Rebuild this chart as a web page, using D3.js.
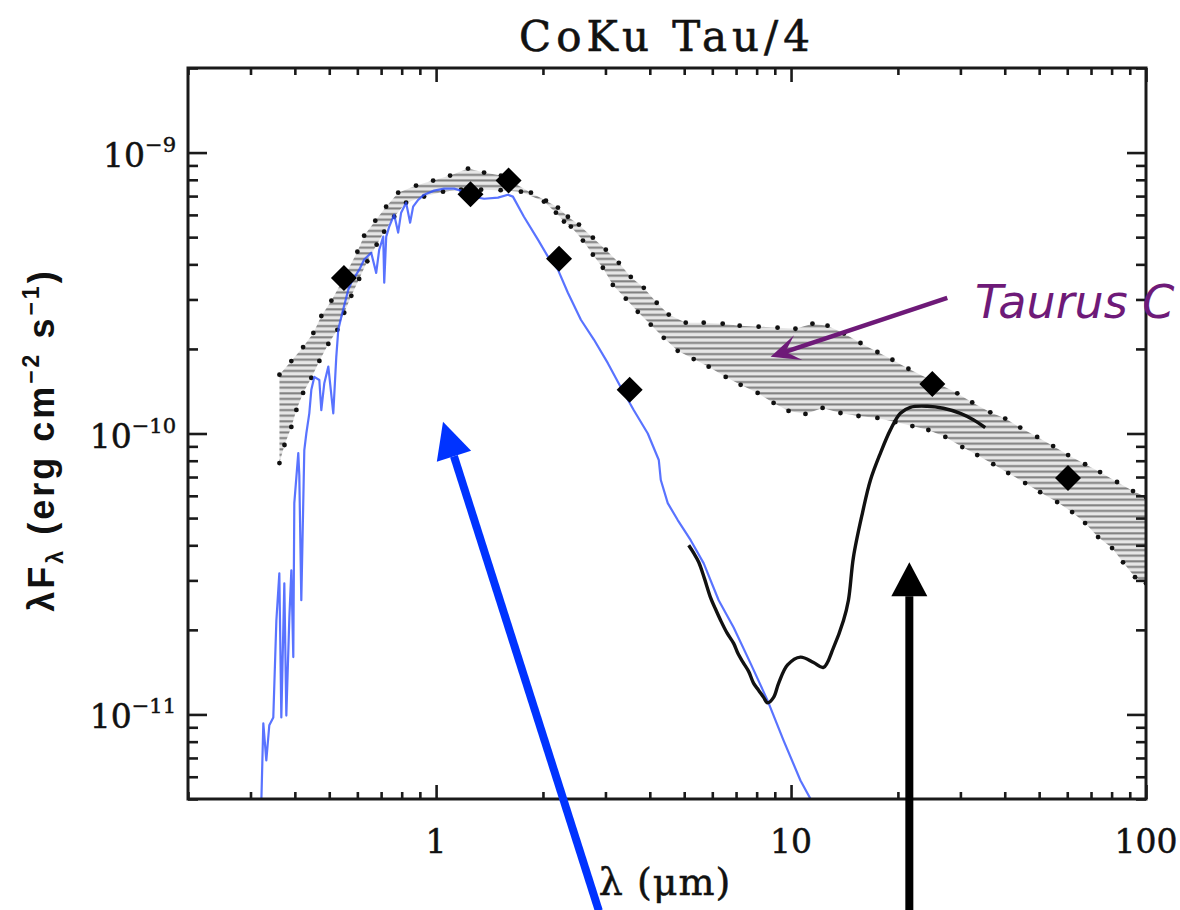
<!DOCTYPE html>
<html>
<head>
<meta charset="utf-8">
<script src="https://cdn.jsdelivr.net/npm/d3@7"></script>
<style>
  body { margin: 0; background: #fff; }
  svg { display: block; }
</style>
</head>
<body>
<svg id="chart" width="1180" height="910"></svg>
<script>
// ---- Data: CoKu Tau/4 spectral energy distribution (lambda in micron, lambda*F_lambda in erg cm^-2 s^-1) ----

// Axis ranges and tick labels
const xDomain = [0.2, 100];
const yDomain = [5e-12, 2e-9];
const xMajorTicks = [1, 10, 100];
const xTickLabels = ["1", "10", "100"];
const yMajorTicks = [1e-9, 1e-10, 1e-11];
const yTickExponents = ["\u22129", "\u221210", "\u221211"];

// Taurus median SED: upper and lower quartile envelopes
const upperLam = [0.362,0.391,0.422,0.451,0.475,0.507,0.551,0.600,0.627,0.674,
  0.723,0.782,0.878,0.981,1.095,1.230,1.365,1.523,1.850,2.039,
  2.204,2.351,2.526,2.765,3.007,3.272,3.536,3.847,4.184,4.523,
  5.050,5.675,6.418,7.165,8.104,9.162,10.29,11.49,12.67,14.1,
  15.69,17.51,19.30,21.41,25.00,29.40,32.39,36.41,40.12,44.22,
  49.36,54.74,60.33,67.36,74.23,82.87,91.91,100];
const upperFlux = [1.62e-10,1.81e-10,2.03e-10,2.28e-10,2.62e-10,2.97e-10,3.6e-10,4.44e-10,5.06e-10,5.72e-10,
  6.42e-10,7.20e-10,7.63e-10,7.95e-10,8.28e-10,8.77e-10,8.49e-10,8.28e-10,7.20e-10,6.74e-10,
  6.37e-10,5.91e-10,5.54e-10,4.98e-10,4.51e-10,4.05e-10,3.61e-10,3.30e-10,2.92e-10,2.65e-10,
  2.48e-10,2.48e-10,2.46e-10,2.42e-10,2.40e-10,2.38e-10,2.36e-10,2.46e-10,2.42e-10,2.27e-10,
  2.10e-10,1.95e-10,1.83e-10,1.70e-10,1.54e-10,1.39e-10,1.29e-10,1.19e-10,1.13e-10,1.05e-10,
  9.72e-11,9.02e-11,8.38e-11,7.78e-11,7.29e-11,6.72e-11,6.24e-11,5.94e-11];

const lowerLam = [0.362,0.374,0.391,0.404,0.422,0.445,0.469,0.497,0.527,0.551,
  0.577,0.607,0.64,0.68,0.714,0.762,0.823,0.925,1.046,1.176,1.339,
  1.52,1.734,2.013,2.176,2.292,2.397,2.592,2.765,2.950,3.147,
  3.423,3.700,4.025,4.379,4.794,5.318,5.861,6.545,7.211,8.052,
  8.929,9.840,10.98,12.27,13.78,15.49,17.51,19.68,21.97,24.37,
  27.21,30.37,33.46,37.13,40.91,45.66,50.33,56.19,61.92,67.36,
  73.28,80.24,86.15,93.14,100];
const lowerFlux = [7.85e-11,9.10e-11,1.055e-10,1.213e-10,1.394e-10,1.577e-10,1.813e-10,2.084e-10,2.339e-10,2.690e-10,
  3.09e-10,3.55e-10,4.1e-10,4.7e-10,5.23e-10,5.91e-10,6.63e-10,6.97e-10,7.26e-10,7.38e-10,7.38e-10,
  7.35e-10,7.26e-10,6.69e-10,6.11e-10,5.68e-10,5.45e-10,4.86e-10,4.33e-10,3.89e-10,3.38e-10,
  3.02e-10,2.71e-10,2.44e-10,2.19e-10,1.97e-10,1.84e-10,1.73e-10,1.59e-10,1.49e-10,1.394e-10,
  1.285e-10,1.203e-10,1.174e-10,1.233e-10,1.183e-10,1.154e-10,1.136e-10,1.099e-10,1.063e-10,1.029e-10,
  9.72e-11,8.95e-11,8.38e-11,7.78e-11,7.23e-11,6.66e-11,6.18e-11,5.70e-11,5.25e-11,4.80e-11,
  4.28e-11,3.91e-11,3.48e-11,3.08e-11,2.93e-11];

// Stellar photosphere model
const modelLam = [0.322,0.326,0.3324,0.3389,0.3478,0.3548,0.3617,0.3664,0.3736,0.3785,
  0.3860,0.391,0.396,0.3986,0.4090,0.4117,0.4171,0.4253,0.4309,0.4393,
  0.4451,0.4538,0.4688,0.4749,0.4842,0.4970,0.5133,0.5233,0.5302,0.5406,
  0.5656,0.5766,0.6074,0.6273,0.6564,0.6780,0.6914,0.7097,0.7143,0.7236,
  0.7378,0.7619,0.7818,0.7970,0.8233,0.8450,0.8616,0.8901,0.9252,0.9871,
  1.053,1.124,1.199,1.271,1.365,1.494,1.594,1.646,1.768,1.936,
  2.066,2.204,2.351,2.558,2.783,3.047,3.314,3.606,3.948,4.240,
  4.296,4.494,4.794,5.215,5.675,6.253,6.891,7.69,8.59,9.53,
  10.63,11.35];
const modelFlux = [5.0e-12,9.29e-12,6.86e-12,9.15e-12,9.75e-12,2.16e-11,3.18e-11,9.75e-12,2.93e-11,9.91e-12,
  2.22e-11,3.26e-11,1.60e-11,5.65e-11,8.52e-11,7.11e-11,2.55e-11,8.73e-11,1.00e-10,1.18e-10,
  1.43e-10,1.59e-10,1.55e-10,1.21e-10,1.51e-10,1.73e-10,1.18e-10,1.87e-10,2.34e-10,2.60e-10,
  3.25e-10,3.44e-10,3.83e-10,4.16e-10,4.40e-10,3.73e-10,4.51e-10,5.02e-10,3.44e-10,5.02e-10,
  5.45e-10,6.01e-10,5.19e-10,6.11e-10,6.63e-10,5.63e-10,6.42e-10,6.79e-10,7.08e-10,7.32e-10,
  7.44e-10,7.44e-10,7.26e-10,6.97e-10,6.85e-10,6.91e-10,7.08e-10,6.97e-10,5.91e-10,4.90e-10,
  4.26e-10,3.83e-10,3.17e-10,2.54e-10,2.16e-10,1.78e-10,1.46e-10,1.21e-10,1.00e-10,8.05e-11,
  6.83e-11,5.65e-11,4.92e-11,4.17e-11,3.45e-11,2.55e-11,2.04e-11,1.52e-11,1.12e-11,8.07e-12,
  5.82e-12,5.0e-12];

// Spitzer IRS spectrum
const irsLam = [5.148,5.32,5.495,5.70,5.936,6.10,6.335,6.60,6.891,7.10,7.353,7.60,7.846,8.10,8.369,8.589,
  8.929,9.223,9.776,10.63,11.57,12.34,13.17,14.05,14.51,14.99,15.89,16.74,17.86,19.05,
  20.32,21.68,24.21,26.85,29.99,32.61,35.24];
const irsFlux = [4.00e-11,3.75e-11,3.48e-11,3.05e-11,2.60e-11,2.40e-11,2.16e-11,1.95e-11,1.79e-11,1.64e-11,1.52e-11,1.42e-11,1.29e-11,1.22e-11,1.15e-11,1.10e-11,
  1.15e-11,1.29e-11,1.50e-11,1.60e-11,1.53e-11,1.47e-11,1.73e-11,2.16e-11,2.55e-11,3.63e-11,5.21e-11,6.83e-11,8.52e-11,1.03e-10,
  1.18e-10,1.24e-10,1.25e-10,1.23e-10,1.18e-10,1.12e-10,1.05e-10];

// Broad-band photometry (V, J, H, K, L, IRAS 25, IRAS 60)
const photLam = [0.55, 1.25, 1.60, 2.22, 3.51, 25.0, 60.3];
const photFlux = [3.58e-10, 7.1e-10, 7.95e-10, 4.19e-10, 1.43e-10, 1.50e-10, 6.94e-11];

// Annotation anchors, in data coordinates [lambda, flux]
const photosphereArrow = { tail: [2.874, 2.0e-12], tip: [1.046, 1.10e-10] };
const irsArrow = { tail: [21.54, 2.0e-12], tip: [21.54, 3.48e-11] };
const medianArrow = { tail: [27.55, 3.04e-10], tip: [8.76, 1.875e-10] };
const medianLabel = { at: [33.0, 2.58e-10], text: "Taurus C" };

// ---- Drawing ----
const svg = d3.select("#chart");
const plot = { left: 188, right: 1146, top: 68, bottom: 799 };

const x = d3.scaleLog().domain(xDomain).range([plot.left, plot.right]);
const y = d3.scaleLog().domain(yDomain).range([plot.bottom, plot.top]);

svg.append("rect").attr("width", 1180).attr("height", 910).attr("fill", "#fff");

const defs = svg.append("defs");
defs.append("clipPath").attr("id", "plot-clip")
  .append("rect")
  .attr("x", plot.left).attr("y", plot.top)
  .attr("width", plot.right - plot.left).attr("height", plot.bottom - plot.top);

// horizontal line hatching for the median band
const hatch = defs.append("pattern")
  .attr("id", "hatch").attr("patternUnits", "userSpaceOnUse")
  .attr("width", 12).attr("height", 5.6);
hatch.append("rect").attr("width", 12).attr("height", 5.6).attr("fill", "#e6e6e6");
hatch.append("rect").attr("y", 0.3).attr("width", 12).attr("height", 2).attr("fill", "#7d7d7d");

const body = svg.append("g").attr("clip-path", "url(#plot-clip)");

// Taurus median band
const upperPts = upperLam.map((l, i) => [l, upperFlux[i]]);
const lowerPts = lowerLam.map((l, i) => [l, lowerFlux[i]]);
const bandPoly = upperPts.concat(lowerPts.slice().reverse());
body.append("path")
  .attr("d", d3.line().x(d => x(d[0])).y(d => y(d[1]))(bandPoly) + "Z")
  .attr("fill", "url(#hatch)");

body.append("g").selectAll("circle")
  .data(upperPts.concat(lowerPts))
  .join("circle")
  .attr("cx", d => x(d[0])).attr("cy", d => y(d[1]))
  .attr("r", 2.4).attr("fill", "#111");

// photosphere model
const lineGen = d3.line().x(d => x(d[0])).y(d => y(d[1]));
body.append("path")
  .attr("d", lineGen(modelLam.map((l, i) => [l, modelFlux[i]])))
  .attr("fill", "none").attr("stroke", "#3050ff").attr("stroke-opacity", 0.8)
  .attr("stroke-width", 2.2).attr("stroke-linejoin", "round");

// IRS spectrum
body.append("path")
  .attr("d", d3.line().x(d => x(d[0])).y(d => y(d[1])).curve(d3.curveCatmullRom)(irsLam.map((l, i) => [l, irsFlux[i]])))
  .attr("fill", "none").attr("stroke", "#111").attr("stroke-width", 3.4)
  .attr("stroke-linejoin", "round");

// photometry diamonds
body.append("g").selectAll("path")
  .data(photLam.map((l, i) => [l, photFlux[i]]))
  .join("path")
  .attr("transform", d => `translate(${x(d[0])},${y(d[1])})`)
  .attr("d", "M0,-13L13,0L0,13L-13,0Z")
  .attr("fill", "#000");

// ---- Axes: ticks on all four sides, pointing inward ----
function minorTicks(domain) {
  const out = [];
  const lo = Math.floor(Math.log10(domain[0])), hi = Math.ceil(Math.log10(domain[1]));
  for (let e = lo; e < hi; e++) {
    for (let m = 2; m <= 9; m++) {
      const v = m * Math.pow(10, e);
      if (v >= domain[0] && v <= domain[1]) out.push(v);
    }
  }
  return out;
}
const xMinor = minorTicks(xDomain);
const yMinor = minorTicks(yDomain);

function styleAxis(g) {
  g.select(".domain").remove();
  g.selectAll("line").attr("stroke", "#1a1a1a").attr("stroke-width", 2.6);
  g.selectAll("text").remove();
}
const axes = svg.append("g");
axes.append("g").attr("transform", `translate(0,${plot.bottom})`)
  .call(d3.axisBottom(x).tickValues(xMajorTicks).tickSize(-14)).call(styleAxis);
axes.append("g").attr("transform", `translate(0,${plot.bottom})`)
  .call(d3.axisBottom(x).tickValues(xMinor).tickSize(-7)).call(styleAxis);
axes.append("g").attr("transform", `translate(0,${plot.top})`)
  .call(d3.axisTop(x).tickValues(xMajorTicks).tickSize(-14)).call(styleAxis);
axes.append("g").attr("transform", `translate(0,${plot.top})`)
  .call(d3.axisTop(x).tickValues(xMinor).tickSize(-7)).call(styleAxis);
axes.append("g").attr("transform", `translate(${plot.left},0)`)
  .call(d3.axisLeft(y).tickValues(yMajorTicks).tickSize(-19)).call(styleAxis);
axes.append("g").attr("transform", `translate(${plot.left},0)`)
  .call(d3.axisLeft(y).tickValues(yMinor).tickSize(-10)).call(styleAxis);
axes.append("g").attr("transform", `translate(${plot.right},0)`)
  .call(d3.axisRight(y).tickValues(yMajorTicks).tickSize(-19)).call(styleAxis);
axes.append("g").attr("transform", `translate(${plot.right},0)`)
  .call(d3.axisRight(y).tickValues(yMinor).tickSize(-10)).call(styleAxis);

axes.append("rect")
  .attr("x", plot.left).attr("y", plot.top)
  .attr("width", plot.right - plot.left).attr("height", plot.bottom - plot.top)
  .attr("fill", "none").attr("stroke", "#1a1a1a").attr("stroke-width", 3);

// tick labels
const serif = "'DejaVu Serif', serif";
svg.append("g").selectAll("text")
  .data(xMajorTicks)
  .join("text")
  .attr("x", d => x(d)).attr("y", 853)
  .attr("text-anchor", "middle")
  .attr("font-family", serif).attr("font-size", 33).attr("fill", "#111")
  .attr("stroke", "#111").attr("stroke-width", 0.5)
  .text((d, i) => xTickLabels[i]);

const yl = svg.append("g").selectAll("text")
  .data(yMajorTicks)
  .join("text")
  .attr("x", 176).attr("y", d => y(d) + 14)
  .attr("text-anchor", "end")
  .attr("font-family", serif).attr("font-size", 33).attr("fill", "#111")
  .attr("stroke", "#111").attr("stroke-width", 0.5);
yl.append("tspan").text("10");
yl.append("tspan").attr("dy", -15).attr("font-size", 21).text((d, i) => yTickExponents[i]);

// title and axis titles
svg.append("text")
  .attr("x", 667).attr("y", 51).attr("text-anchor", "middle")
  .attr("font-family", serif).attr("font-size", 42).attr("fill", "#111")
  .attr("stroke", "#111").attr("stroke-width", 0.6)
  .attr("letter-spacing", 5)
  .text("CoKu Tau/4");

svg.append("text")
  .attr("x", 665).attr("y", 895).attr("text-anchor", "middle")
  .attr("font-family", serif).attr("font-size", 38).attr("fill", "#111")
  .attr("stroke", "#111").attr("stroke-width", 0.5)
  .attr("letter-spacing", 1)
  .text("\u03bb (\u03bcm)");

const ylab = svg.append("text")
  .attr("transform", `translate(54,440) rotate(-90)`)
  .attr("text-anchor", "middle")
  .attr("font-family", "'Liberation Sans', Arial, sans-serif")
  .attr("font-weight", "bold").attr("font-size", 36).attr("fill", "#111")
  .attr("letter-spacing", 3);
ylab.append("tspan").text("\u03bbF");
ylab.append("tspan").attr("dy", 9).attr("font-size", 23).text("\u03bb");
ylab.append("tspan").attr("dy", -9).text(" (erg cm");
ylab.append("tspan").attr("dy", -15).attr("font-size", 23).text("\u22122");
ylab.append("tspan").attr("dy", 15).text(" s");
ylab.append("tspan").attr("dy", -15).attr("font-size", 23).text("\u22121");
ylab.append("tspan").attr("dy", 15).text(")");

// ---- Annotation arrows ----
function arrow(g, spec, color, shaftW, headLen, headHalf, stealth) {
  const x0 = x(spec.tail[0]), y0 = y(spec.tail[1]);
  const x1 = x(spec.tip[0]), y1 = y(spec.tip[1]);
  const dx = x1 - x0, dy = y1 - y0, len = Math.hypot(dx, dy);
  const ux = dx / len, uy = dy / len, px = -uy, py = ux;
  const bx = x1 - ux * headLen, by = y1 - uy * headLen;
  const shaftEnd = stealth ? [x1 - ux * headLen * 0.5, y1 - uy * headLen * 0.5] : [bx, by];
  g.append("line")
    .attr("x1", x0).attr("y1", y0).attr("x2", shaftEnd[0]).attr("y2", shaftEnd[1])
    .attr("stroke", color).attr("stroke-width", shaftW);
  const pts = stealth
    ? [[x1, y1], [bx + px * headHalf - ux * 3, by + py * headHalf - uy * 3],
       [x1 - ux * headLen * 0.6, y1 - uy * headLen * 0.6],
       [bx - px * headHalf - ux * 3, by - py * headHalf - uy * 3]]
    : [[x1, y1], [bx + px * headHalf, by + py * headHalf], [bx - px * headHalf, by - py * headHalf]];
  g.append("path").attr("d", "M" + pts.map(p => p.join(",")).join("L") + "Z").attr("fill", color);
}
const notes = svg.append("g");
arrow(notes, photosphereArrow, "#0033ff", 8, 36, 18, false);
arrow(notes, irsArrow, "#000", 8, 34, 18, false);
arrow(notes, medianArrow, "#6e1a78", 4.5, 26, 13, true);

notes.append("text")
  .attr("x", x(medianLabel.at[0])).attr("y", y(medianLabel.at[1]))
  .attr("font-family", "'DejaVu Sans', Verdana, sans-serif")
  .attr("font-style", "italic").attr("font-size", 46).attr("fill", "#6e1a78")
  .text(medianLabel.text);
</script>
</body>
</html>
